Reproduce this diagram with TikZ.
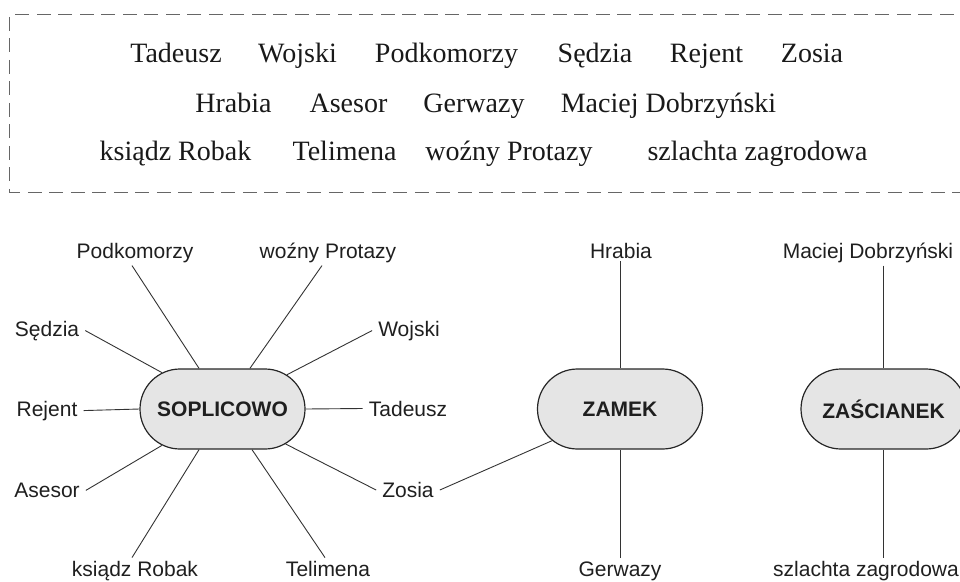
\documentclass[tikz,border=0pt]{standalone}
\usepackage{fontspec}
\setmainfont{Liberation Serif}
\setsansfont{Liberation Sans}
\usetikzlibrary{shapes.misc,calc}
\tikzset{
  lbl/.style={font=\sffamily\fontsize{21}{25}\selectfont, text=black!88, inner xsep=6pt, inner ysep=3pt, anchor=base},
  word/.style={font=\rmfamily\fontsize{28}{32}\selectfont, text=black!90, inner sep=0pt, anchor=base},
  hub/.style={rounded rectangle, draw=black!85, fill=black!10, line width=1.2pt, minimum width=165pt, minimum height=80pt, inner sep=0pt, font=\sffamily\bfseries\fontsize{21}{25}\selectfont, text=black!88},
  conn/.style={draw=black!80, line width=0.9pt},
  frame/.style={draw=black!60, line width=1.3pt, dash pattern=on 14pt off 7.5pt}
}
\begin{document}
\begin{tikzpicture}[x=1pt,y=-1pt]
\useasboundingbox (0,0) rectangle (960,581);
\clip (0,0) rectangle (960,581);
% dashed frame
\draw[frame] (975,14.7) -- (9.7,14.7) -- (9.7,192.3) -- (975,192.3);
% word list
\node[word] (t1) at (176,62) {Tadeusz};
\node[word] (t2) at (297.5,62) {Wojski};
\node[word] (t3) at (446.5,62) {Podkomorzy};
\node[word] (t4) at (595,62) {Sędzia};
\node[word] (t5) at (706.5,62) {Rejent};
\node[word] (t6) at (812,62) {Zosia};
\node[word] (t7) at (233.5,112) {Hrabia};
\node[word] (t8) at (348.5,112) {Asesor};
\node[word] (t9) at (474,112) {Gerwazy};
\node[word] (t10) at (668.5,112) {Maciej Dobrzyński};
\node[word] (t11) at (175.5,160) {ksiądz Robak};
\node[word] (t12) at (344.5,160) {Telimena};
\node[word] (t13) at (509,160) {woźny Protazy};
\node[word] (t14) at (757.5,160) {szlachta zagrodowa};
% hubs
\node[hub] (sop) at (222.5,409) {SOPLICOWO};
\node[hub] (zam) at (620,409) {ZAMEK};
\node[hub] (zas) at (883.5,409) {ZAŚCIANEK};
% labels
\node[lbl] (pk) at (135,258) {Podkomorzy};
\node[lbl] (wp) at (328,258) {woźny Protazy};
\node[lbl] (sd) at (47,336) {Sędzia};
\node[lbl] (wj) at (409,336) {Wojski};
\node[lbl] (rj) at (47,416) {Rejent};
\node[lbl] (td) at (408,416) {Tadeusz};
\node[lbl] (as) at (47,497.5) {Asesor};
\node[lbl] (zs) at (408,497.5) {Zosia};
\node[lbl] (kr) at (135,576) {ksiądz Robak};
\node[lbl] (tl) at (328,576) {Telimena};
\node[lbl] (hr) at (621,258) {Hrabia};
\node[lbl] (gw) at (620,576) {Gerwazy};
\node[lbl] (md) at (868,258) {Maciej Dobrzyński};
\node[lbl] (sz) at (866,576) {szlachta zagrodowa};
% connectors
\draw[conn] ($(pk.south)+(-3,0)$) -- (sop.120);
\draw[conn] ($(wp.south)+(-6,0)$) -- (sop.56);
\draw[conn] (sd.east) -- (sop.149);
\draw[conn] (wj.west) -- (sop.28);
\draw[conn] (rj.east) -- (sop.180);
\draw[conn] (td.west) -- (sop.0);
\draw[conn] (as.east) -- (sop.211);
\draw[conn] (zs.west) -- (sop.331);
\draw[conn] ($(kr.north)+(-3,0)$) -- (sop.240);
\draw[conn] ($(tl.north)+(-3,0)$) -- (sop.306);
\draw[conn] (zs.east) -- (zam.205);
\draw[conn] (hr.south -| zam.north) -- (zam.north);
\draw[conn] (gw.north -| zam.south) -- (zam.south);
\draw[conn] (md.south -| zas.north) -- (zas.north);
\draw[conn] (sz.north -| zas.south) -- (zas.south);
\end{tikzpicture}
\end{document}
